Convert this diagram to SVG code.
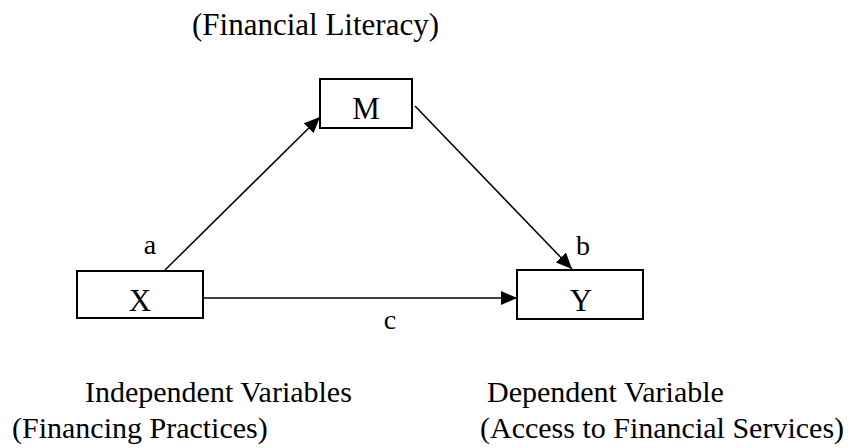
<svg xmlns="http://www.w3.org/2000/svg" width="852" height="448" viewBox="0 0 852 448">
<style>
text{font-family:"Liberation Serif","Times New Roman",serif;font-size:30px;fill:#000}
.big{font-size:31px}
.lab{font-size:28px}
.box{fill:#fff;stroke:#000;stroke-width:2}
.ln{stroke:#000;stroke-width:1.5;fill:none}
</style>
<defs>
<marker id="ah" markerWidth="16" markerHeight="16" refX="16" refY="8" orient="auto" markerUnits="userSpaceOnUse" viewBox="0 0 16 16">
<path d="M0,1 L16,8 L0,15 z" fill="#000"/>
</marker>
</defs>
<rect width="852" height="448" fill="#fff"/>
<g id="connectors">
<line class="ln" x1="165" y1="270" x2="320" y2="117" marker-end="url(#ah)"/>
<line class="ln" x1="415" y1="106" x2="572" y2="269" marker-end="url(#ah)"/>
<line class="ln" x1="203" y1="298" x2="517" y2="298" marker-end="url(#ah)"/>
</g>
<g id="node-M">
<rect class="box" x="320" y="79" width="92" height="49"/>
<text class="big" x="366" y="119" text-anchor="middle">M</text>
</g>
<g id="node-X">
<rect class="box" x="77" y="271" width="126" height="47"/>
<text class="big" x="140" y="311" text-anchor="middle">X</text>
</g>
<g id="node-Y">
<rect class="box" x="517" y="270" width="126" height="49"/>
<text class="big" x="581" y="311" text-anchor="middle">Y</text>
</g>
<g id="labels">
<text class="big" x="192" y="35">(Financial Literacy)</text>
<text class="lab" x="150" y="254" text-anchor="middle">a</text>
<text class="lab" x="583" y="255" text-anchor="middle">b</text>
<text class="lab" x="390" y="329" text-anchor="middle">c</text>
<text x="85" y="402">Independent Variables</text>
<text x="12" y="438">(Financing Practices)</text>
<text x="487" y="402">Dependent Variable</text>
<text x="480" y="438">(Access to Financial Services)</text>
</g>
</svg>
